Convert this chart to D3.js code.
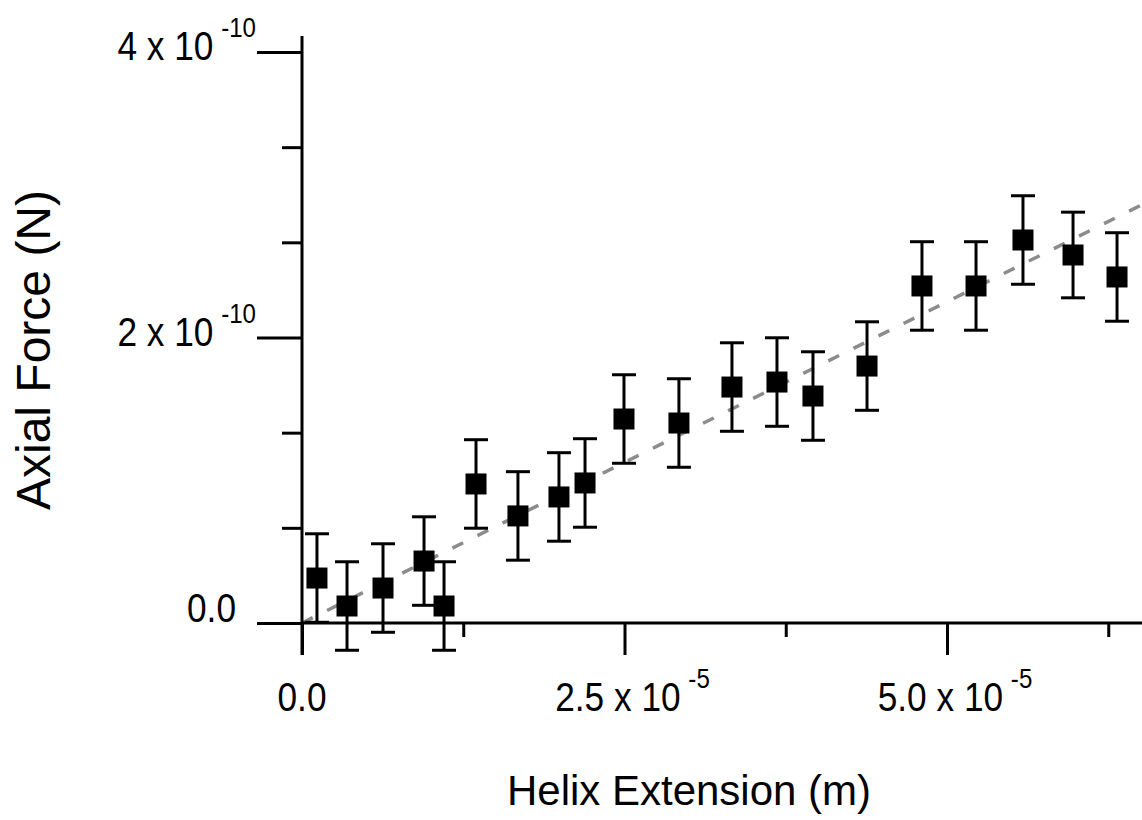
<!DOCTYPE html>
<html>
<head>
<meta charset="utf-8">
<script src="https://cdn.jsdelivr.net/npm/d3@7"></script>
<style>
  body { margin: 0; background: #fff; }
  svg { display: block; }
  text { font-family: "Liberation Sans", Arial, sans-serif; fill: #000; }
</style>
</head>
<body>
<div id="chart"></div>
<script>
// helix extension (m) for each point
const extension = [0.116e-5, 0.349e-5, 0.628e-5, 0.946e-5, 1.101e-5, 1.349e-5, 1.674e-5,
  1.992e-5, 2.194e-5, 2.496e-5, 2.922e-5, 3.333e-5, 3.682e-5, 3.961e-5, 4.380e-5,
  4.806e-5, 5.225e-5, 5.589e-5, 5.977e-5, 6.318e-5]
// axial force (N)
const force = [0.315e-10, 0.119e-10, 0.245e-10, 0.434e-10, 0.119e-10, 0.974e-10, 0.750e-10,
  0.883e-10, 0.981e-10, 1.429e-10, 1.401e-10, 1.653e-10, 1.688e-10, 1.590e-10, 1.800e-10,
  2.361e-10, 2.361e-10, 2.683e-10, 2.578e-10, 2.424e-10]
// error bar half height (N)
const forceErr = [0.31e-10, 0.31e-10, 0.31e-10, 0.31e-10, 0.31e-10, 0.31e-10, 0.31e-10,
  0.31e-10, 0.31e-10, 0.31e-10, 0.31e-10, 0.31e-10, 0.31e-10, 0.31e-10, 0.31e-10,
  0.31e-10, 0.31e-10, 0.31e-10, 0.30e-10, 0.31e-10]

// linear fit, through origin
const fitX = [0, 6.55e-5]
const fitSlope = 4.5e-6

const xMajor = [0, 2.5e-5, 5.0e-5]
const xMinor = [1.25e-5, 3.75e-5, 6.25e-5]
const xTickText = ["0.0", "2.5 x 10", "5.0 x 10"]
const xTickExp = ["", "-5", "-5"]

const yMajor = [0, 2e-10, 4e-10]
const yMinor = [0.6667e-10, 1.3333e-10, 2.6667e-10, 3.3333e-10]
const yTickText = ["0.0", "2 x 10", "4 x 10"]
const yTickExp = ["", "-10", "-10"]

const width = 1142, height = 820

const svg = d3.select("#chart").append("svg")
  .attr("width", width)
  .attr("height", height)

const xScale = d3.scaleLinear()
  .domain([0, 5e-5])
  .range([302, 947])

const yScale = d3.scaleLinear()
  .domain([0, 4e-10])
  .range([623, 52])

const x0 = xScale(0), y0 = yScale(0)

/* fit line goes under the markers */
svg.append("path")
  .datum(fitX)
  .attr("d", d3.line().x(d => xScale(d)).y(d => yScale(d * fitSlope)))
  .attr("fill", "none")
  .attr("stroke", "#8c8c8c")
  .attr("stroke-width", 3.5)
  .attr("stroke-dasharray", "12,16")

/* axes */
const xAxisMajor = d3.axisBottom(xScale).tickValues(xMajor).tickSize(32).tickSizeOuter(0).tickFormat("")
const xAxisMinor = d3.axisBottom(xScale).tickValues(xMinor).tickSize(14).tickSizeOuter(0).tickFormat("")
const yAxisMajor = d3.axisLeft(yScale).tickValues(yMajor).tickSize(45).tickSizeOuter(0).tickFormat("")
const yAxisMinor = d3.axisLeft(yScale).tickValues(yMinor).tickSize(20).tickSizeOuter(0).tickFormat("")

function styleAxis(g) {
  g.select(".domain").remove()
  g.selectAll("line").attr("stroke", "#000").attr("stroke-width", 3)
}

svg.append("g").attr("transform", `translate(0,${y0})`).call(xAxisMajor).call(styleAxis)
svg.append("g").attr("transform", `translate(0,${y0})`).call(xAxisMinor).call(styleAxis)
svg.append("g").attr("transform", `translate(${x0},0)`).call(yAxisMajor).call(styleAxis)
svg.append("g").attr("transform", `translate(${x0},0)`).call(yAxisMinor).call(styleAxis)

// axis lines
svg.append("line")
  .attr("x1", x0).attr("x2", width)
  .attr("y1", y0).attr("y2", y0)
  .attr("stroke", "#000").attr("stroke-width", 3)
svg.append("line")
  .attr("x1", x0).attr("x2", x0)
  .attr("y1", yScale(4e-10) - 16).attr("y2", y0 + 32)
  .attr("stroke", "#000").attr("stroke-width", 3)

/* tick labels (narrow like the original) */
function tickLabel(parent, tx, ty, anchor, main, exp) {
  const g = parent.append("g")
    .attr("transform", `translate(${tx},${ty}) scale(0.86,1)`)
  const t = g.append("text")
    .attr("text-anchor", anchor)
    .style("font-size", "41px")
  t.append("tspan").text(main)
  if (exp) {
    t.append("tspan")
      .attr("dx", 9)
      .attr("dy", -23)
      .style("font-size", "28px")
      .text(exp)
  }
}

xMajor.forEach((v, i) => {
  const off = xTickExp[i] ? 8 : 0
  tickLabel(svg, xScale(v) + off, 711, "middle", xTickText[i], xTickExp[i])
})

yMajor.forEach((v, i) => {
  if (yTickExp[i]) {
    tickLabel(svg, 256, yScale(v) + 8, "end", yTickText[i], yTickExp[i])
  } else {
    tickLabel(svg, 236, yScale(v) - 1, "end", yTickText[i], "")
  }
})

/* axis titles */
svg.append("text")
  .attr("x", 689)
  .attr("y", 805)
  .attr("text-anchor", "middle")
  .style("font-size", "42px")
  .text("Helix Extension (m)")

svg.append("text")
  .attr("transform", "translate(50,350) rotate(-90)")
  .attr("text-anchor", "middle")
  .style("font-size", "48px")
  .text("Axial Force (N)")

/* error bars and markers */
const points = extension.map((d, i) => ({ x: d, y: force[i], e: forceErr[i] }))
const capW = 12, box = 21

const bars = svg.append("g").selectAll(".err")
  .data(points)
  .enter().append("g")
  .attr("class", "err")
  .attr("stroke", "#000")
  .attr("stroke-width", 3)

bars.append("line")
  .attr("x1", d => xScale(d.x)).attr("x2", d => xScale(d.x))
  .attr("y1", d => yScale(d.y + d.e)).attr("y2", d => yScale(d.y - d.e))
bars.append("line")
  .attr("x1", d => xScale(d.x) - capW).attr("x2", d => xScale(d.x) + capW)
  .attr("y1", d => yScale(d.y + d.e)).attr("y2", d => yScale(d.y + d.e))
bars.append("line")
  .attr("x1", d => xScale(d.x) - capW).attr("x2", d => xScale(d.x) + capW)
  .attr("y1", d => yScale(d.y - d.e)).attr("y2", d => yScale(d.y - d.e))

svg.append("g").selectAll(".pt")
  .data(points)
  .enter().append("rect")
  .attr("class", "pt")
  .attr("x", d => xScale(d.x) - box / 2)
  .attr("y", d => yScale(d.y) - box / 2)
  .attr("width", box)
  .attr("height", box)
  .attr("fill", "#000")
</script>
</body>
</html>
